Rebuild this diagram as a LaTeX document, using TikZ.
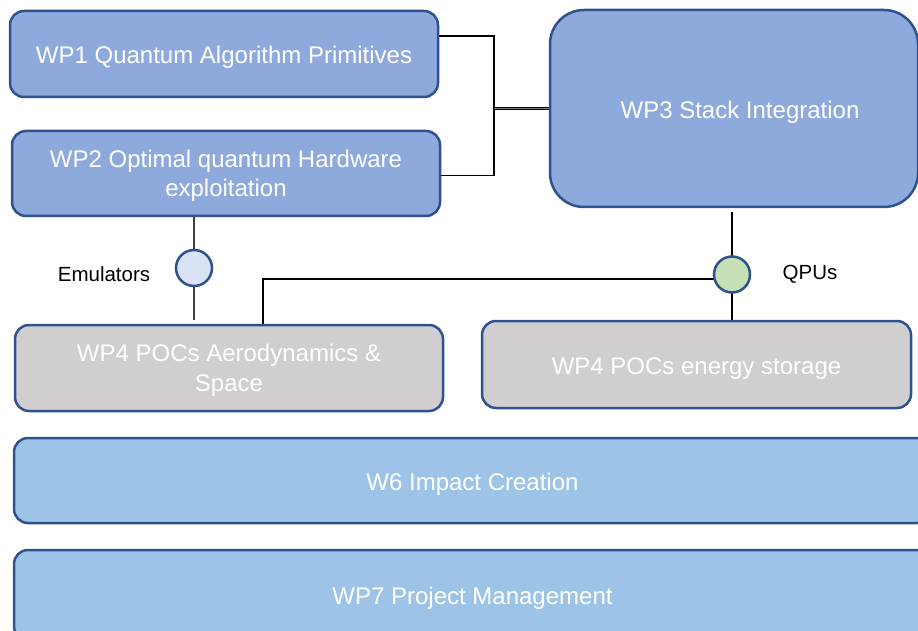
\documentclass[tikz,border=0pt]{standalone}
\usepackage{fontspec}
\setmainfont{Liberation Sans}
\definecolor{topblue}{HTML}{8EA9DB}
\definecolor{lowblue}{HTML}{9DC3E6}
\definecolor{pocgray}{HTML}{D0CECE}
\definecolor{edgeblue}{HTML}{2F528F}
\definecolor{emufill}{HTML}{DAE3F3}
\definecolor{qpufill}{HTML}{C5E0B4}
\begin{document}
\begin{tikzpicture}[x=1pt,y=-1pt,
  wpbox/.style={draw=edgeblue, line width=2.5pt, rounded corners=14pt, text=white,
    align=center, font=\fontsize{24}{29.5}\selectfont, inner sep=0pt,
    execute at begin node={\rule{0pt}{24.5pt}}},
  twoline/.style={text depth=-2pt},
  hub/.style={circle, draw=edgeblue, line width=2.5pt, minimum size=36pt, inner sep=0pt},
  conn/.style={draw=black, line width=1.3pt},
  stub/.style={draw=black!75, line width=1.8pt},
  lab/.style={font=\fontsize{20.5}{24}\selectfont, text=black}]
\useasboundingbox (0,0) rectangle (918,631);
\clip (0,0) rectangle (918,631);
% boxes
\node[wpbox, fill=topblue, minimum width=428pt, minimum height=86pt] (wp1) at (224,54) {WP1 Quantum Algorithm Primitives};
\node[wpbox, twoline, fill=topblue, minimum width=428pt, minimum height=85pt] (wp2) at (226,173.5) {WP2 Optimal quantum Hardware\\exploitation};
\node[wpbox, fill=topblue, rounded corners=34pt, minimum width=368pt, minimum height=197pt] (wp3) at (734,108.5) {\hspace*{12pt}WP3 Stack Integration};
\node[wpbox, twoline, fill=pocgray, minimum width=428pt, minimum height=86pt] (wp4a) at (229,368) {WP4 POCs Aerodynamics \&\\Space};
\node[wpbox, fill=pocgray, minimum width=429pt, minimum height=87pt] (wp4b) at (696.5,364.5) {WP4 POCs energy storage};
\node[wpbox, fill=lowblue, minimum width=917pt, minimum height=85pt] (wp6) at (472.5,480.5) {W6 Impact Creation};
\node[wpbox, fill=lowblue, minimum width=917pt, minimum height=90pt] (wp7) at (472.5,595) {WP7 Project Management};
% junction
\coordinate (j1) at (494,36);
\coordinate (j2) at (494,175.5);
\coordinate (jm) at (494,108.5);
\draw[conn] (wp1.east |- j1) -- (j1) -- (j2) -- (wp2.east |- j2);
\draw[draw=black, line width=0.8pt, double=black!50, double distance=1pt] (jm) -- (wp3.west |- jm);
% hub connectors
\coordinate (e0) at (194,217);
\coordinate (e1) at (194,320);
\coordinate (q1) at (732,212);
\coordinate (q2) at (732,320);
\coordinate (l1) at (263,279);
\coordinate (l2) at (720,279);
\draw[stub] (e0) -- (e1);
\draw[conn] (q1) -- (q2);
\draw[conn] (wp4a.north -| l1) -- (l1) -- (l2);
% hubs
\node[hub, fill=emufill] (emu) at (194,268) {};
\node[hub, fill=qpufill] (qpu) at (732,274.5) {};
\node[lab] (emulab) at (104,274) {Emulators};
\node[lab] (qpulab) at (810,274) {QPUs};
\end{tikzpicture}
\end{document}
